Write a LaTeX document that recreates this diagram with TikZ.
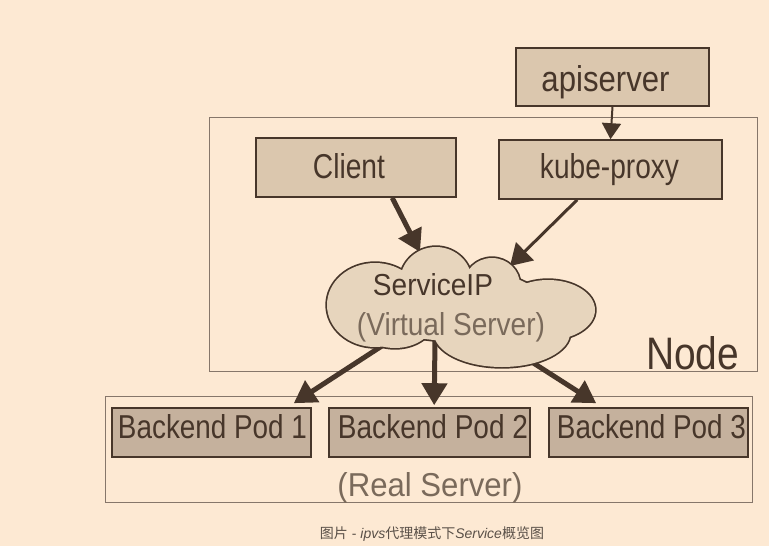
\documentclass[tikz,border=0pt]{standalone}
\usepackage{fontspec}
\setmainfont{Liberation Sans}
\newfontfamily\cjkfont{Noto Sans CJK SC}
\usetikzlibrary{arrows.meta,calc}
\definecolor{bg}{HTML}{FDE9D3}
\definecolor{ink}{HTML}{47362A}
\definecolor{frame}{HTML}{86766A}
\definecolor{boxfill}{HTML}{DBC7AE}
\definecolor{podfill}{HTML}{C5B19D}
\definecolor{cloudfill}{HTML}{E7D5BD}
\definecolor{greytext}{HTML}{7A6A5B}
\definecolor{captext}{HTML}{5A5048}
\newcommand\sqz[3]{\resizebox{#1pt}{#2pt}{#3}}
\begin{document}
\begin{tikzpicture}[x=1pt,y=-1pt,
  boxnode/.style={draw=ink,line width=1.6pt,fill=boxfill,inner sep=0pt},
  podnode/.style={draw=ink,line width=1.6pt,fill=podfill,inner sep=0pt},
  framebox/.style={draw=frame,line width=1pt},
  lbl/.style={inner sep=0pt,text=ink,anchor=base},
  glbl/.style={inner sep=0pt,text=greytext,anchor=base},
  bigarrow/.style={draw=ink,line width=5pt,-{Triangle[length=22pt,width=25pt]}},
  midarrow/.style={draw=ink,line width=3pt,-{Triangle[length=21pt,width=25pt]}},
  smallarrow/.style={draw=ink,line width=2pt,-{Triangle[length=16pt,width=19pt]}}
]
\fill[bg] (0,0) rectangle (769,546);
\useasboundingbox (0,0) rectangle (769,546);

% frames
\draw[framebox] (209,117) rectangle (757,371);
\draw[framebox] (105,396) rectangle (752,502);

% boxes
\node[boxnode,minimum width=193pt,minimum height=58pt] (api) at (612.5,77) {};
\node[boxnode,minimum width=200pt,minimum height=59pt] (client) at (356,167.5) {};
\node[boxnode,minimum width=223pt,minimum height=59pt] (kube) at (610.5,169.5) {};
\node[podnode,minimum width=199pt,minimum height=49pt] (pod1) at (211.5,432.5) {};
\node[podnode,minimum width=201pt,minimum height=49pt] (pod2) at (429.5,432.5) {};
\node[podnode,minimum width=199pt,minimum height=49pt] (pod3) at (648.5,432.5) {};

% cloud anchor points
\coordinate (cl1) at (388,342);
\coordinate (cl2) at (435,340);
\coordinate (cl3) at (524,357);
\coordinate (cin1) at (420,252);
\coordinate (cin2) at (510,266);

% connectors
\draw[smallarrow] (api.south) -- (kube.north);
\draw[bigarrow] ($(client.south west)+(137,0)$) -- (cin1);
\draw[midarrow] ($(kube.south west)+(79,0)$) -- (cin2);
\draw[bigarrow] (cl1) -- ($(pod1.north east)+(-18,-4)$);
\draw[bigarrow] (cl2) -- ($(pod2.north west)+(106,-2)$);
\draw[bigarrow] (cl3) -- ($(pod3.north west)+(48,-4)$);

% cloud: union of ellipses
\begin{scope}
  \foreach \cx/\cy/\rx/\ry in {375/305/48/42, 436/282/36/35, 492/285/28/27, 548/310/47/30, 502/333/68/34, 395/318/40/30, 455/305/90/36}{
    \draw[ink,line width=3.4pt] (\cx,\cy) ellipse [x radius=\rx, y radius=\ry];
  }
  \foreach \cx/\cy/\rx/\ry in {375/305/48/42, 436/282/36/35, 492/285/28/27, 548/310/47/30, 502/333/68/34, 395/318/40/30, 455/305/90/36}{
    \fill[cloudfill] (\cx,\cy) ellipse [x radius=\rx, y radius=\ry];
  }
\end{scope}

% texts
\node[lbl] (tapi) at (605.5,92) {\sqz{128}{26}{apiserver}};
\node[lbl] (tclient) at (349,178) {\sqz{72}{25}{Client}};
\node[lbl] (tkube) at (609.5,178) {\sqz{139}{25}{kube-proxy}};
\node[lbl] (tsvc) at (433,295) {\sqz{120}{22}{ServiceIP}};
\node[glbl] (tvirt) at (451,335) {\sqz{188}{23}{(Virtual Server)}};
\node[lbl] (tnode) at (692.5,369) {\sqz{93}{33}{Node}};
\node[lbl] (tpod1) at (212.5,438) {\sqz{189}{24}{Backend Pod 1}};
\node[lbl] (tpod2) at (433,438) {\sqz{190}{24}{Backend Pod 2}};
\node[lbl] (tpod3) at (651.5,438) {\sqz{189}{24}{Backend Pod 3}};
\node[glbl] (treal) at (430,496) {\sqz{185}{24}{(Real Server)}};
\node[anchor=base,inner sep=0pt,text=captext,font=\fontsize{14}{15}\selectfont] (cap) at (432,538)
  {{\cjkfont 图片} - \textit{ipvs}{\cjkfont 代理模式下}\textit{Service}{\cjkfont 概览图}};
\end{tikzpicture}
\end{document}
